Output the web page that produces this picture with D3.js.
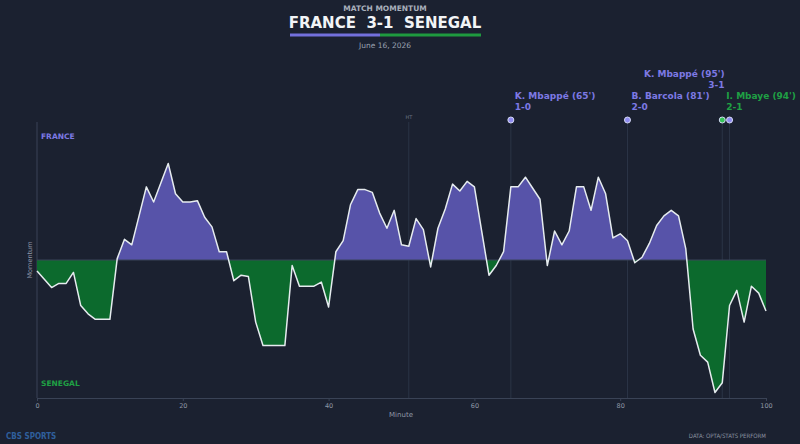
<!DOCTYPE html>
<html><head><meta charset="utf-8">
<script src="https://cdn.jsdelivr.net/npm/d3@7"></script>
<style>
html,body{margin:0;padding:0;background:#1b2130;}
svg{display:block;font-family:"DejaVu Sans",sans-serif;}
</style></head>
<body>
<svg id="chart" width="800" height="444"></svg>
<script>
// ---- data ----
const minutes = d3.range(0, 101);
const momentum = [
  -8,-14,-20,-17,-17,-9,-33,-39,-43,-43,
  -43,1,15,11,32,53,42,56,70,48,
  42,42,43,31,24,6,6,-15,-11,-12,
  -45,-62,-62,-62,-62,-4,-19,-19,-19,-16,
  -34,6,14,40,51,51,49,34,23,36,
  11,10,30,22,-5,23,37,55,50,57,
  53,21,-11,-4,6,53,53,60,52,44,
  -4,21,11,21,53,53,36,60,48,16,
  19,14,-2,2,12,25,32,36,32,8,
  -50,-69,-74,-96,-89,-33,-22,-45,-19,-24,
  -37
];
const xTicks = [0, 20, 40, 60, 80, 100];
const goalMinutes = [65, 81, 94, 95];
const goalScorers = ["K. Mbappé (65')", "B. Barcola (81')", "I. Mbaye (94')", "K. Mbappé (95')"];
const goalScores = ["1-0", "2-0", "2-1", "3-1"];
const goalTeams = ["FRA", "FRA", "SEN", "FRA"];
const halfTimeMinute = 51;
const homeTeam = "FRANCE", awayTeam = "SENEGAL";

// ---- style ----
const C = {
  bg: "#1b2130", fra: "#5753a9", fraText: "#7d79e4", sen: "#0c6a2d", senText: "#1fa044",
  line: "#e6ecef", axis: "#3a4356", grid: "#2b3446", text: "#8f97a6"
};
const svg = d3.select("#chart");
svg.append("rect").attr("width", 800).attr("height", 444).attr("fill", C.bg);

const L = 37, R = 766, T = 122, B = 398;
const x = d3.scaleLinear().domain([0, 100]).range([L, R]);
const y = d3.scaleLinear().domain([-100, 100]).range([B, T]);
const data = minutes.map((m, i) => ({m, v: momentum[i]}));

// title
svg.append("text").attr("x", 385).attr("y", 11).attr("text-anchor", "middle")
  .attr("fill", "#a9b0bc").attr("font-size", 7.5).attr("font-weight", "bold").text("MATCH MOMENTUM");
svg.append("text").attr("x", 385).attr("y", 27.5).attr("text-anchor", "middle")
  .attr("fill", "#f2f4f6").attr("font-size", 15).attr("font-weight", "bold")
  .attr("xml:space", "preserve").text(homeTeam + "  3-1  " + awayTeam);
svg.append("rect").attr("x", 290).attr("y", 33.5).attr("width", 90).attr("height", 3).attr("fill", "#7370dc");
svg.append("rect").attr("x", 380).attr("y", 33.5).attr("width", 101).attr("height", 3).attr("fill", "#1e9a3f");
svg.append("text").attr("x", 385).attr("y", 48).attr("text-anchor", "middle")
  .attr("fill", "#9aa2b0").attr("font-size", 7.5).text("June 16, 2026");

// clip paths
const defs = svg.append("defs");
defs.append("clipPath").attr("id", "above").append("rect")
  .attr("x", L).attr("y", T).attr("width", R - L).attr("height", y(0) - T);
defs.append("clipPath").attr("id", "below").append("rect")
  .attr("x", L).attr("y", y(0)).attr("width", R - L).attr("height", B - y(0));

// y axis line
svg.append("line").attr("x1", L).attr("x2", L).attr("y1", T).attr("y2", B).attr("stroke", C.axis).attr("stroke-width", 1);

// half time line
svg.append("line").attr("x1", x(halfTimeMinute)).attr("x2", x(halfTimeMinute)).attr("y1", T).attr("y2", B)
  .attr("stroke", C.grid).attr("stroke-width", 1);
svg.append("text").attr("x", x(halfTimeMinute)).attr("y", 119).attr("text-anchor", "middle")
  .attr("fill", "#6b7385").attr("font-size", 5).text("HT");

// goal lines
goalMinutes.forEach((g) => {
  svg.append("line").attr("x1", x(g)).attr("x2", x(g)).attr("y1", 120).attr("y2", B)
    .attr("stroke", C.grid).attr("stroke-width", 1);
});

// areas
const area = d3.area().x(d => x(d.m)).y0(y(0)).y1(d => y(d.v));
svg.append("path").datum(data).attr("d", area).attr("fill", C.fra).attr("clip-path", "url(#above)");
svg.append("path").datum(data).attr("d", area).attr("fill", C.sen).attr("clip-path", "url(#below)");

// zero line
svg.append("line").attr("x1", L).attr("x2", R).attr("y1", y(0)).attr("y2", y(0))
  .attr("stroke", "#3b4559").attr("stroke-width", 1);

// momentum line
svg.append("path").datum(data).attr("d", d3.line().x(d => x(d.m)).y(d => y(d.v)))
  .attr("fill", "none").attr("stroke", C.line).attr("stroke-width", 1.5).attr("stroke-linejoin", "round");

// x axis
const xAxis = d3.axisBottom(x).tickValues(xTicks).tickSize(3).tickPadding(2);
const gx = svg.append("g").attr("transform", `translate(0,${B})`).call(xAxis);
gx.select(".domain").attr("stroke", C.axis);
gx.selectAll(".tick line").attr("stroke", C.axis);
gx.selectAll(".tick text").attr("fill", C.text).attr("font-size", 6.5).attr("font-family", "DejaVu Sans");

svg.append("text").attr("x", 401).attr("y", 417).attr("text-anchor", "middle")
  .attr("fill", C.text).attr("font-size", 7).text("Minute");
svg.append("text").attr("transform", `translate(32,${y(0)}) rotate(-90)`).attr("text-anchor", "middle")
  .attr("fill", C.text).attr("font-size", 6.5).text("Momentum");

// team labels
svg.append("text").attr("x", 41).attr("y", 139).attr("fill", C.fraText).attr("font-size", 7.5)
  .attr("font-weight", "bold").text(homeTeam);
svg.append("text").attr("x", 41).attr("y", 386).attr("fill", C.senText).attr("font-size", 7.5)
  .attr("font-weight", "bold").text(awayTeam);

// goal markers & labels
const labelPos = [
  {dx: 4, y1: 99, y2: 110, anchor: "start"},
  {dx: 4, y1: 99, y2: 110, anchor: "start"},
  {dx: 4, y1: 99, y2: 110, anchor: "start"},
  {dx: -5, y1: 77, y2: 88, anchor: "end"}
];
goalMinutes.forEach((g, i) => {
  const fra = goalTeams[i] === "FRA";
  svg.append("circle").attr("cx", x(g)).attr("cy", 120).attr("r", 3)
    .attr("fill", fra ? "#8f8cf0" : "#36c45a").attr("stroke", "#d6daf5").attr("stroke-width", 1);
  const p = labelPos[i];
  const col = fra ? C.fraText : C.senText;
  svg.append("text").attr("x", x(g) + p.dx).attr("y", p.y1).attr("text-anchor", p.anchor)
    .attr("fill", col).attr("font-size", 9).attr("font-weight", "bold").text(goalScorers[i]);
  svg.append("text").attr("x", x(g) + p.dx).attr("y", p.y2).attr("text-anchor", p.anchor)
    .attr("fill", col).attr("font-size", 9).attr("font-weight", "bold").text(goalScores[i]);
});

// footer
svg.append("text").attr("x", 6).attr("y", 439).attr("fill", "#2f5f9c").attr("font-size", 8)
  .attr("font-family", "DejaVu Sans Condensed, DejaVu Sans").attr("font-weight", "bold").text("CBS SPORTS");
svg.append("text").attr("x", 766).attr("y", 438).attr("text-anchor", "end").attr("fill", "#8a92a0")
  .attr("font-size", 6).attr("font-family", "DejaVu Sans Condensed, DejaVu Sans").text("DATA: OPTA/STATS PERFORM");
</script>
</body></html>
